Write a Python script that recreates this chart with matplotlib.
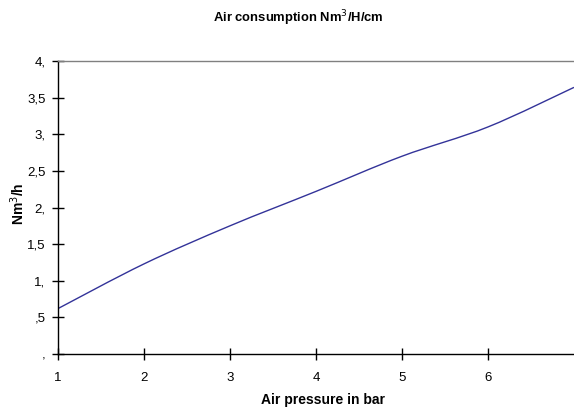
import matplotlib
matplotlib.use("Agg")
import matplotlib.pyplot as plt
from matplotlib.path import Path
from matplotlib.patches import PathPatch
import numpy as np

pressure = [1, 2, 3, 4, 5, 6, 7]
consumption = [0.62, 1.23, 1.75, 2.22, 2.70, 3.10, 3.64]
y_ticks = [0, 0.5, 1, 1.5, 2, 2.5, 3, 3.5, 4]
y_tick_labels = [",", ",5", "1,", "1,5", "2,", "2,5", "3,", "3,5", "4,"]
x_ticks = [1, 2, 3, 4, 5, 6]
x_tick_labels = ["1", "2", "3", "4", "5", "6"]

plt.rcParams['font.family'] = ['Liberation Sans', 'DejaVu Sans']

fig = plt.figure(figsize=(5.74, 4.07), dpi=100)
ax = fig.add_axes([58/574, 53/407, 516/574, 293/407])

# Smoothed line (Catmull-Rom -> Bezier) through the data points
x = np.array(pressure, float)
y = np.array(consumption, float)
n = len(x)
verts = [(x[0], y[0])]
codes = [Path.MOVETO]
for i in range(n - 1):
    p0 = np.array([x[max(i-1, 0)], y[max(i-1, 0)]])
    p1 = np.array([x[i], y[i]])
    p2 = np.array([x[i+1], y[i+1]])
    p3 = np.array([x[min(i+2, n-1)], y[min(i+2, n-1)]])
    c1 = p1 + (p2 - p0) / 6
    c2 = p2 - (p3 - p1) / 6
    verts += [tuple(c1), tuple(c2), tuple(p2)]
    codes += [Path.CURVE4] * 3
ax.add_patch(PathPatch(Path(verts, codes), facecolor='none', edgecolor='#333399', lw=1.0))
ax.plot(x, y, alpha=0)

ax.set_xlim(1, 7)
ax.set_ylim(0, 4)
ax.set_xticks(x_ticks)
ax.set_xticklabels(x_tick_labels)
ax.set_yticks(y_ticks)
ax.set_yticklabels(y_tick_labels)
ax.tick_params(direction='inout', length=8, width=1, labelsize=9.5, colors='black')
ax.tick_params(axis='x', pad=9)
ax.tick_params(axis='y', pad=5)

ax.spines['right'].set_visible(False)
ax.spines['top'].set_color('#808080')
ax.spines['top'].set_linewidth(1.0)
ax.spines['left'].set_linewidth(1.0)
ax.spines['bottom'].set_linewidth(1.0)

fig.text(298/574, 1 - 18/407, "Air consumption Nm$^3$/H/cm", ha='center', va='center',
         fontsize=9.4, fontweight='bold')
fig.text(323/574, 1 - 400/407, "Air pressure in bar", ha='center', va='center',
         fontsize=10, fontweight='bold')
fig.text(18/574, 1 - 204/407, "Nm$^3$/h", ha='center', va='center', rotation=90,
         fontsize=10, fontweight='bold')

fig.savefig("out.png", dpi=100)
